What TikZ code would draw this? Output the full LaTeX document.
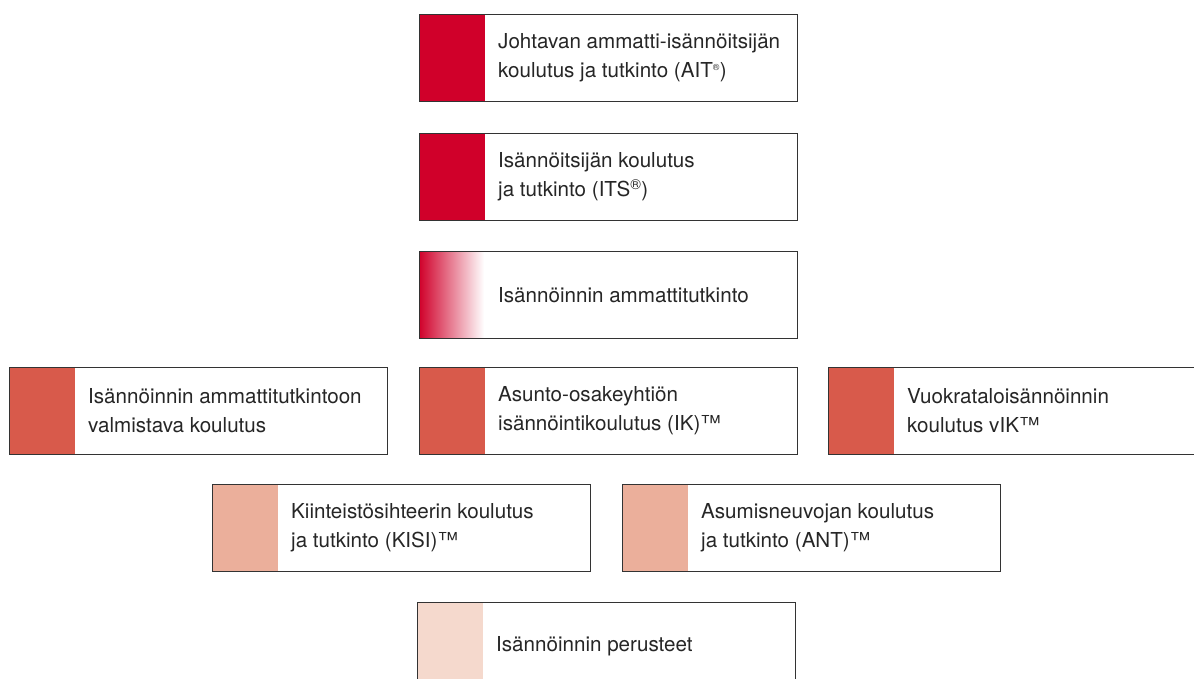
\documentclass[tikz,border=0pt]{standalone}
\usepackage{fontspec}
\setmainfont{TeX Gyre Heros}
\definecolor{cA}{HTML}{D0002A}
\definecolor{cB}{HTML}{D85A4B}
\definecolor{cC}{HTML}{EBAF9B}
\definecolor{cD}{HTML}{F5D9CD}
\definecolor{cM}{HTML}{E3836D}
\definecolor{edge}{HTML}{333333}
\begin{document}
\begin{tikzpicture}[x=1pt,y=-1pt,
  box/.style={draw=edge,line width=1.2pt,rectangle,anchor=north west,
    minimum width=378pt,minimum height=87pt,inner sep=0pt},
  band/.style={path picture={\fill[#1] (path picture bounding box.north west) rectangle ([xshift=65pt]path picture bounding box.south west);}},
  lbl/.style={anchor=west,align=left,inner sep=0pt,font=\fontsize{20.6}{29}\selectfont,text=black!85}]
\useasboundingbox (0,0) rectangle (1194,679);
\clip (0,0) rectangle (1194,679);
\fill[white] (0,0) rectangle (1194,679);
\node[box,band=cA] (b1) at (419,14) {};
\node[lbl] (t1) at ([xshift=79pt]b1.west) {Johtavan ammatti-isännöitsijän\\koulutus ja tutkinto (AIT\textsuperscript{\small ®})};
\node[box,band=cA] (b2) at (419,133) {};
\node[lbl] (t2) at ([xshift=79pt]b2.west) {Isännöitsijän koulutus\\ja tutkinto (ITS\textsuperscript{®})};
\coordinate (g1) at (419,251);
\coordinate (g2) at (484,338);
\shade[left color=cA,middle color=cM,right color=white] (g1) rectangle (g2);
\node[box] (b3) at (419,251) {};
\node[lbl] (t3) at ([xshift=79pt]b3.west) {Isännöinnin ammattitutkinto};
\node[box,band=cB] (b4) at (9,367) {};
\node[lbl] (t4) at ([xshift=79pt]b4.west) {Isännöinnin ammattitutkintoon\\valmistava koulutus};
\node[box,band=cB] (b5) at (419,367) {};
\node[lbl] (t5) at ([xshift=79pt]b5.west) {Asunto-osakeyhtiön\\isännöintikoulutus (IK)™};
\node[box,band=cB] (b6) at (828,367) {};
\node[lbl] (t6) at ([xshift=79pt]b6.west) {Vuokrataloisännöinnin\\koulutus vIK™};
\node[box,band=cC] (b7) at (212,484) {};
\node[lbl] (t7) at ([xshift=79pt]b7.west) {Kiinteistösihteerin koulutus\\ja tutkinto (KISI)™};
\node[box,band=cC] (b8) at (622,484) {};
\node[lbl] (t8) at ([xshift=79pt]b8.west) {Asumisneuvojan koulutus\\ja tutkinto (ANT)™};
\node[box,band=cD] (b9) at (417,602) {};
\node[lbl] (t9) at ([xshift=79pt]b9.west) {Isännöinnin perusteet};
\end{tikzpicture}
\end{document}
